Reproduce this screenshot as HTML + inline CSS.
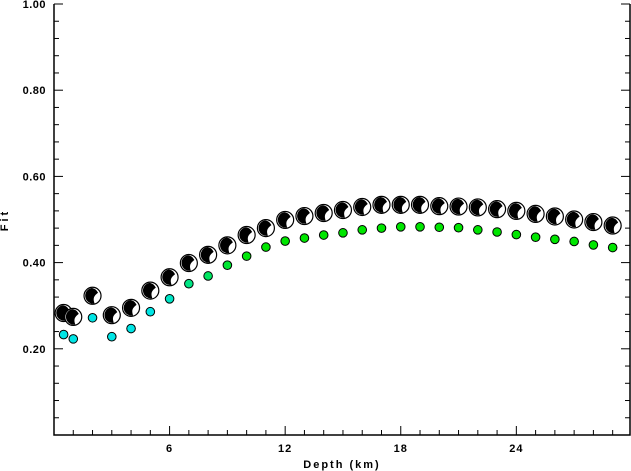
<!DOCTYPE html>
<html><head><meta charset="utf-8"><style>body{margin:0;background:#fff}svg{display:block}text{font-family:"Liberation Sans",sans-serif;font-weight:bold;font-size:11px;fill:#000}</style></head>
<body>
<svg id="c" width="631" height="471" viewBox="0 0 631 471" xmlns="http://www.w3.org/2000/svg"></svg>
<script>
const depths=[0.5,1,2,3,4,5,6,7,8,9,10,11,12,13,14,15,16,17,18,19,20,21,22,23,24,25,26,27,28,29];
const bestFit=[0.283,0.274,0.323,0.278,0.295,0.335,0.366,0.399,0.418,0.44,0.464,0.48,0.499,0.508,0.515,0.522,0.529,0.534,0.534,0.534,0.531,0.53,0.528,0.524,0.52,0.513,0.507,0.5,0.494,0.486];
const altFit=[0.233,0.223,0.272,0.228,0.247,0.286,0.316,0.351,0.369,0.394,0.415,0.436,0.45,0.457,0.464,0.469,0.476,0.48,0.483,0.483,0.482,0.481,0.476,0.471,0.465,0.459,0.454,0.449,0.441,0.435];
const xTicks=[6,12,18,24];
const yTicks=[0.2,0.4,0.6,0.8,1.0];
const yLabels=["0.20","0.40","0.60","0.80","1.00"];
const X0=54,X1=630,Y0=435,Y1=4,XMAX=29.9;
const xs=v=>X0+v/XMAX*(X1-X0);
const ys=v=>Y0-v*(Y0-Y1);
const svg=document.getElementById('c');
const NS='http://www.w3.org/2000/svg';
function mk(t,a,p){const e=document.createElementNS(NS,t);for(const k in a)e.setAttribute(k,a[k]);(p||svg).appendChild(e);return e;}
function lerpColor(t){const g=Math.round(229+t),b=Math.round(229*(1-t));return `rgb(0,${g},${b})`;}
let ax=mk('path',{d:`M${X0},${Y1}V${Y0}H${X1}V${Y1}`,fill:'none',stroke:'#000','stroke-width':1.5});


for(let v=0.04;v<=1.001;v+=0.04){const y=ys(v);const big=Math.abs(v*5-Math.round(v*5))<0.01;
 mk('line',{x1:X0,x2:X0+(big?9:5),y1:y,y2:y,stroke:'#000','stroke-width':1});
 mk('line',{x1:X1,x2:X1-(big?9:5),y1:y,y2:y,stroke:'#000','stroke-width':1});}
for(let d=1;d<XMAX;d++){const x=xs(d);const big=d%6==0;mk('line',{x1:x,x2:x,y1:Y0,y2:Y0-(big?9:5),stroke:'#000','stroke-width':1});}
xTicks.forEach(d=>{const t=mk('text',{x:xs(d),y:452,'text-anchor':'middle','letter-spacing':'1'});t.textContent=d;

});
yTicks.forEach((v,i)=>{const t=mk('text',{x:46,y:ys(v)+4,'text-anchor':'end','letter-spacing':'0.5'});t.textContent=yLabels[i];

});
let xt=mk('text',{x:342,y:468,'text-anchor':'middle','letter-spacing':'2'});xt.textContent='Depth (km)';


let yt=mk('text',{x:8,y:220,'text-anchor':'middle','letter-spacing':'3',transform:'rotate(-90 8 220)'});yt.textContent='Fit';


depths.forEach((d,i)=>{const t=Math.min(1,Math.max(0,(altFit[i]-0.3)/0.12));
 const c=mk('circle',{cx:xs(d),cy:ys(altFit[i]),r:4.3,fill:lerpColor(t),stroke:'#000','stroke-width':1});
 
 });
depths.forEach((d,i)=>{const x=xs(d),y=ys(bestFit[i]);const g=mk('g',{});
 
 
 mk('circle',{cx:x,cy:y,r:8.5,fill:'#fff',stroke:'#000','stroke-width':1.2},g);
 mk('path',{d:`M${x-1},${y-7.8}A7.8,7.8 0 1 0 ${x+2},${y+7.6}C${x+1},${y+4} ${x},${y+1} ${x+5.5},${y-3}C${x+4},${y-6} ${x+2},${y-7.5} ${x-1},${y-7.8}Z`,fill:'#000'},g);});
</script>
</body></html>
